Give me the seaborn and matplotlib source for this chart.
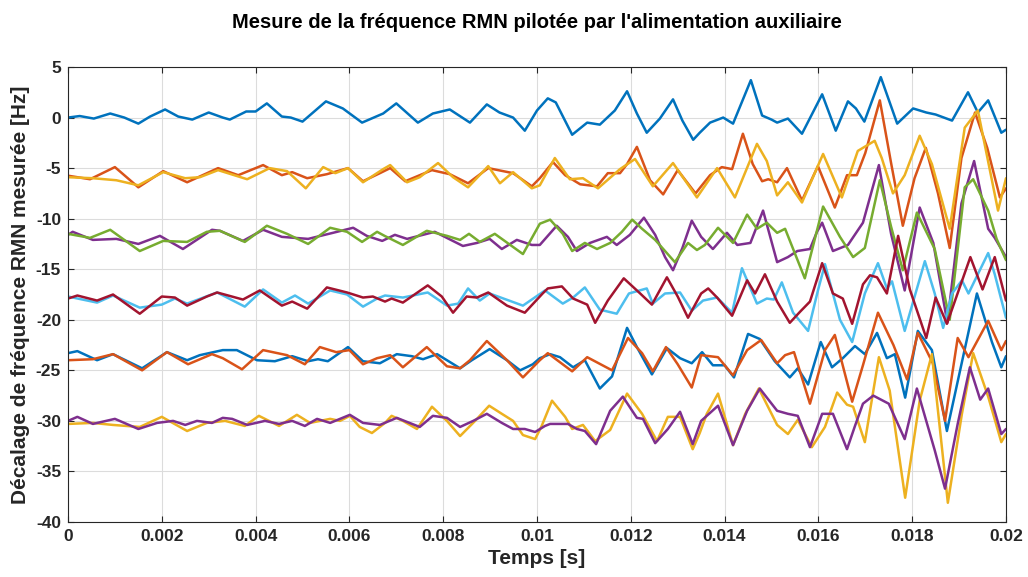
import numpy as np
import pandas as pd
import matplotlib
matplotlib.use("Agg")
import matplotlib.pyplot as plt
from matplotlib.ticker import FuncFormatter, MultipleLocator
import seaborn as sns

# Measured NMR frequency offset traces: (time in ms, offset in Hz)
trace_blue_0 = [(0, 0.0), (0.25, 0.15), (0.55, -0.1), (0.9, 0.4), (1.2, 0.0), (1.5, -0.6), (1.75, 0.1),
                (2.07, 0.8), (2.35, 0.1), (2.65, -0.2), (3.0, 0.5), (3.3, 0.0), (3.45, -0.2), (3.8, 0.6),
                (4.0, 0.6), (4.24, 1.4), (4.56, 0.1), (4.75, 0.0), (5.0, -0.4), (5.25, 0.6), (5.5, 1.6),
                (5.86, 0.9), (6.27, -0.5), (6.72, 0.4), (7.0, 1.4), (7.46, -0.5), (7.78, 0.4), (8.14, 0.8),
                (8.57, -0.5), (8.93, 1.3), (9.2, 0.5), (9.49, 0.0), (9.74, -1.3), (10.0, 0.7), (10.23, 1.9),
                (10.4, 1.5), (10.75, -1.7), (11.07, -0.5), (11.34, -0.7), (11.66, 0.7), (11.92, 2.6),
                (12.13, 0.4), (12.34, -1.5), (12.62, -0.1), (12.9, 1.8), (13.1, -0.3), (13.33, -2.2),
                (13.47, -1.5), (13.69, -0.5), (13.97, 0.0), (14.18, -0.6), (14.56, 3.7), (14.8, 0.2),
                (15.0, -0.2), (15.12, -0.5), (15.35, -0.1), (15.65, -1.6), (16.08, 2.3), (16.37, -1.3),
                (16.63, 1.6), (16.8, 0.9), (16.98, -0.4), (17.33, 4.0), (17.68, -0.6), (18.02, 0.9),
                (18.3, 0.5), (18.5, 0.3), (18.85, -0.3), (19.19, 2.5), (19.4, 0.5), (19.62, 1.7),
                (19.9, -1.5), (20.0, -1.2)]

trace_orange_6 = [(0, -5.75), (0.47, -6.1), (1.0, -4.9), (1.5, -6.9), (2.03, -5.3), (2.54, -6.4), (3.2, -5.0),
                  (3.63, -5.7), (4.16, -4.7), (4.56, -5.7), (4.78, -5.4), (5.1, -6.0), (5.52, -5.6),
                  (5.97, -5.0), (6.29, -6.3), (6.65, -5.5), (6.87, -5.0), (7.19, -6.3), (7.76, -5.2),
                  (8.14, -5.6), (8.53, -6.5), (8.96, -5.0), (9.49, -5.5), (9.89, -6.8), (10.06, -6.0),
                  (10.34, -4.4), (10.6, -5.7), (10.92, -6.6), (11.28, -6.8), (11.51, -5.5), (11.77, -5.5),
                  (11.92, -4.6), (12.13, -2.9), (12.41, -6.2), (12.69, -7.6), (13.0, -5.2), (13.38, -7.5),
                  (13.69, -5.7), (13.94, -4.9), (14.16, -5.1), (14.39, -1.6), (14.6, -4.6), (14.8, -6.3),
                  (14.93, -6.1), (15.12, -6.4), (15.33, -5.0), (15.65, -8.2), (15.99, -4.8), (16.35, -8.9),
                  (16.61, -5.7), (16.82, -5.7), (17.0, -3.5), (17.31, 1.7), (17.55, -4.5), (17.8, -10.7),
                  (18.05, -6.0), (18.29, -3.0), (18.55, -7.5), (18.8, -12.9), (19.05, -4.0), (19.34, 0.5),
                  (19.6, -3.0), (19.87, -7.9), (20.0, -7.0)]

trace_yellow_6 = [(0, -5.9), (0.53, -6.0), (1.03, -6.2), (1.5, -6.7), (2.03, -5.4), (2.5, -6.0), (2.81, -5.9),
                  (3.2, -5.2), (3.82, -6.1), (4.3, -5.0), (4.67, -5.3), (5.07, -7.0), (5.44, -4.9),
                  (5.7, -5.5), (5.97, -5.0), (6.29, -6.4), (6.72, -5.1), (6.87, -4.7), (7.23, -6.4),
                  (7.5, -5.9), (7.89, -4.5), (8.21, -5.9), (8.53, -6.9), (8.96, -4.8), (9.21, -6.5),
                  (9.49, -5.4), (9.89, -7.0), (10.06, -6.7), (10.38, -4.0), (10.7, -6.1), (10.98, -6.0),
                  (11.3, -7.0), (11.77, -5.1), (12.09, -4.1), (12.47, -6.8), (12.9, -4.5), (13.41, -7.9),
                  (13.84, -5.0), (14.22, -7.9), (14.69, -2.6), (14.9, -4.3), (15.12, -7.7), (15.35, -6.4),
                  (15.65, -8.4), (16.1, -3.6), (16.5, -7.9), (16.84, -3.3), (17.2, -2.3), (17.35, -4.0),
                  (17.59, -7.5), (17.84, -5.7), (18.16, -1.8), (18.42, -4.6), (18.8, -11.0), (19.12, -1.0),
                  (19.4, 0.7), (19.83, -9.2), (20.0, -6.0)]

trace_purple_12 = [(0, -11.6), (0.1, -11.3), (0.53, -12.1), (1.03, -12.0), (1.5, -12.5), (1.96, -11.7),
                   (2.45, -13.0), (3.07, -11.1), (3.24, -11.2), (3.73, -12.2), (4.16, -11.1), (4.56, -11.8),
                   (5.12, -12.0), (5.65, -11.4), (6.08, -10.9), (6.37, -11.7), (6.7, -12.2), (6.97, -11.6),
                   (7.23, -12.0), (7.82, -11.3), (8.42, -12.7), (8.72, -12.4), (8.99, -12.0), (9.25, -13.0),
                   (9.57, -12.1), (9.89, -12.6), (10.06, -12.6), (10.42, -10.7), (10.66, -11.8),
                   (10.85, -13.2), (11.13, -12.4), (11.49, -11.8), (11.7, -12.6), (11.98, -11.6),
                   (12.28, -9.9), (12.52, -11.6), (12.73, -13.8), (12.9, -15.1), (13.1, -12.9), (13.3, -10.2),
                   (13.5, -11.8), (13.75, -13.0), (14.05, -11.4), (14.27, -12.6), (14.55, -12.4),
                   (14.82, -9.2), (15.12, -14.3), (15.35, -13.8), (15.55, -13.2), (15.82, -13.0),
                   (15.97, -11.3), (16.08, -10.4), (16.31, -13.2), (16.63, -12.6), (16.95, -10.4),
                   (17.29, -4.7), (17.55, -11.5), (17.84, -17.1), (18.16, -8.9), (18.45, -12.4),
                   (18.75, -20.3), (19.05, -8.5), (19.32, -4.3), (19.62, -11.0), (19.76, -11.9), (20.0, -13.8)]

trace_green_12 = [(0, -11.5), (0.47, -11.9), (0.9, -11.1), (1.53, -13.2), (2.03, -12.2), (2.54, -12.3),
                  (2.96, -11.3), (3.24, -11.2), (3.77, -12.3), (4.24, -10.7), (4.67, -11.5), (5.12, -12.5),
                  (5.59, -10.9), (5.95, -11.3), (6.27, -12.3), (6.59, -11.3), (6.75, -11.7), (7.14, -12.6),
                  (7.65, -11.2), (8.08, -11.7), (8.36, -12.1), (8.55, -11.5), (8.78, -12.3), (9.1, -11.5),
                  (9.7, -13.5), (10.06, -10.5), (10.28, -10.1), (10.55, -11.5), (10.75, -13.2),
                  (11.02, -12.4), (11.28, -13.0), (11.56, -12.4), (11.81, -11.3), (12.03, -10.1),
                  (12.24, -11.0), (12.52, -12.1), (12.94, -14.3), (13.22, -12.4), (13.41, -13.1),
                  (13.58, -12.6), (13.86, -10.9), (14.18, -12.4), (14.48, -9.6), (14.69, -11.0),
                  (14.9, -10.4), (15.12, -11.4), (15.29, -11.0), (15.71, -15.9), (16.1, -8.8),
                  (16.46, -11.8), (16.74, -13.8), (16.99, -12.9), (17.31, -6.2), (17.55, -10.8),
                  (17.8, -15.1), (18.1, -9.4), (18.48, -13.0), (18.8, -20.0), (19.12, -6.9), (19.3, -6.1),
                  (19.62, -9.2), (19.8, -12.0), (20.0, -14.1)]

trace_lightblue_18 = [(0, -17.7), (0.62, -18.3), (0.96, -17.6), (1.53, -18.8), (2.0, -18.5), (2.28, -17.9),
                      (2.54, -18.4), (3.18, -17.3), (3.77, -18.7), (4.16, -17.0), (4.56, -18.3),
                      (4.84, -17.6), (5.12, -18.4), (5.59, -17.1), (5.95, -17.5), (6.29, -18.7), (6.59, -17.9),
                      (6.76, -17.6), (7.14, -17.8), (7.67, -17.3), (8.08, -18.6), (8.32, -18.4), (8.53, -16.9),
                      (8.78, -18.1), (8.99, -17.4), (9.7, -18.6), (10.17, -17.1), (10.55, -18.4),
                      (10.77, -17.8), (11.02, -16.8), (11.34, -19.0), (11.7, -19.4), (11.96, -17.4),
                      (12.34, -16.9), (12.47, -18.4), (12.73, -17.4), (13.05, -17.3), (13.3, -19.1),
                      (13.54, -18.1), (13.84, -17.8), (14.16, -19.3), (14.37, -14.9), (14.69, -18.4),
                      (14.9, -17.9), (15.05, -18.0), (15.22, -16.3), (15.46, -19.3), (15.78, -21.1),
                      (15.99, -17.1), (16.14, -14.5), (16.46, -20.0), (16.72, -22.2), (16.99, -17.4),
                      (17.27, -14.4), (17.46, -16.9), (17.57, -16.2), (17.84, -21.1), (18.27, -14.2),
                      (18.48, -17.4), (18.66, -20.8), (18.85, -17.4), (19.06, -16.1), (19.2, -17.4),
                      (19.62, -13.4), (19.76, -15.5), (20.0, -19.8)]

trace_darkred_18 = [(0, -17.9), (0.2, -17.6), (0.62, -18.1), (0.96, -17.5), (1.53, -19.4), (2.0, -17.7),
                    (2.28, -17.8), (2.54, -18.6), (2.96, -17.7), (3.18, -17.3), (3.73, -18.0), (4.09, -17.1),
                    (4.56, -18.6), (4.78, -18.2), (5.1, -18.9), (5.52, -16.8), (5.95, -17.3), (6.29, -17.8),
                    (6.5, -17.7), (6.76, -18.2), (6.9, -17.9), (7.14, -18.3), (7.67, -16.6), (7.97, -17.7),
                    (8.21, -19.3), (8.5, -17.7), (8.72, -17.8), (8.96, -17.3), (9.36, -18.6), (9.74, -19.3),
                    (10.12, -17.4), (10.23, -16.9), (10.53, -16.7), (10.77, -17.9), (11.07, -18.5),
                    (11.24, -20.3), (11.51, -18.1), (11.85, -15.9), (12.2, -17.4), (12.45, -18.5),
                    (12.77, -15.8), (13.0, -17.7), (13.22, -19.8), (13.5, -17.4), (13.65, -16.9),
                    (13.84, -17.8), (14.16, -19.6), (14.48, -16.1), (14.65, -17.4), (14.86, -15.5),
                    (15.12, -18.2), (15.39, -20.3), (15.61, -19.2), (15.82, -18.2), (16.08, -14.4),
                    (16.31, -17.4), (16.52, -17.9), (16.72, -20.4), (16.95, -16.5), (17.1, -15.6),
                    (17.25, -15.8), (17.46, -17.4), (17.7, -11.7), (17.95, -17.0), (18.3, -21.8),
                    (18.5, -17.8), (18.74, -20.4), (19.24, -13.8), (19.5, -17.0), (19.76, -13.8),
                    (20.0, -18.1)]

trace_blue_24 = [(0, -23.3), (0.2, -23.1), (0.62, -24.0), (0.96, -23.4), (1.58, -24.8), (2.11, -23.2),
                 (2.54, -24.0), (2.81, -23.5), (3.3, -23.0), (3.6, -23.0), (4.03, -24.0), (4.41, -24.1),
                 (4.78, -23.6), (5.12, -24.1), (5.33, -23.9), (5.54, -24.1), (5.97, -22.7), (6.29, -24.1),
                 (6.65, -24.3), (7.01, -23.4), (7.33, -23.6), (7.57, -23.9), (7.87, -23.4), (8.36, -24.8),
                 (8.61, -24.0), (8.99, -22.9), (9.36, -24.0), (9.64, -25.0), (9.91, -24.4), (10.06, -23.8),
                 (10.28, -23.4), (10.49, -23.7), (10.77, -24.7), (11.02, -24.0), (11.34, -26.8),
                 (11.6, -25.6), (11.92, -20.8), (12.13, -22.7), (12.45, -25.4), (12.77, -22.8),
                 (13.05, -23.8), (13.3, -24.3), (13.52, -23.2), (13.75, -24.5), (14.0, -24.5),
                 (14.2, -25.7), (14.5, -21.4), (14.75, -21.9), (15.07, -24.1), (15.39, -25.7),
                 (15.56, -24.8), (15.78, -26.4), (16.05, -22.2), (16.29, -24.7), (16.52, -23.8),
                 (16.78, -22.6), (16.99, -23.4), (17.25, -21.3), (17.46, -23.8), (17.63, -23.4),
                 (17.85, -27.7), (18.12, -21.1), (18.42, -23.0), (18.74, -31.0), (18.97, -26.1),
                 (19.38, -17.4), (19.7, -22.2), (19.9, -24.7), (20.0, -23.6)]

trace_orange_24 = [(0, -24.0), (0.53, -23.9), (0.96, -23.4), (1.58, -25.0), (2.11, -23.2), (2.56, -24.4),
                   (3.07, -23.4), (3.3, -23.8), (3.71, -24.9), (4.16, -23.0), (4.67, -23.5), (5.05, -24.4),
                   (5.37, -22.7), (5.72, -23.2), (6.0, -23.0), (6.29, -24.4), (6.59, -23.8), (6.87, -23.5),
                   (7.14, -24.7), (7.65, -22.7), (8.08, -24.6), (8.36, -24.8), (8.57, -24.0), (8.93, -22.1),
                   (9.36, -24.0), (9.7, -25.7), (10.06, -24.0), (10.23, -23.3), (10.75, -25.1),
                   (11.07, -23.7), (11.6, -25.0), (11.94, -21.8), (12.24, -23.3), (12.47, -25.1),
                   (12.75, -22.7), (13.0, -24.4), (13.3, -26.7), (13.5, -23.5), (13.86, -23.7),
                   (14.18, -25.5), (14.48, -23.0), (14.78, -22.0), (15.12, -24.3), (15.29, -23.5),
                   (15.48, -23.2), (15.82, -28.3), (16.14, -23.0), (16.35, -21.5), (16.72, -28.1),
                   (16.95, -24.5), (17.27, -19.3), (17.6, -22.5), (17.89, -25.9), (18.12, -21.3),
                   (18.44, -24.3), (18.7, -30.0), (18.97, -21.8), (19.2, -23.7), (19.62, -20.1),
                   (19.9, -23.0), (20.0, -22.1)]

trace_yellow_30 = [(0, -30.3), (0.53, -30.2), (0.96, -30.4), (1.53, -30.6), (2.0, -29.6), (2.54, -31.0),
                   (2.96, -30.2), (3.35, -30.0), (3.77, -30.5), (4.07, -29.5), (4.5, -30.5), (4.88, -29.4),
                   (5.16, -30.2), (5.59, -29.8), (5.8, -30.0), (6.01, -29.5), (6.22, -30.6), (6.48, -31.2),
                   (6.76, -30.2), (6.9, -29.5), (7.14, -30.0), (7.44, -30.8), (7.76, -28.6), (8.08, -30.0),
                   (8.36, -31.5), (8.68, -30.0), (8.98, -28.5), (9.25, -29.3), (9.49, -30.0), (9.7, -31.4),
                   (9.96, -31.8), (10.1, -30.5), (10.32, -28.0), (10.6, -29.6), (10.75, -30.8),
                   (10.98, -30.4), (11.24, -32.0), (11.56, -30.9), (11.92, -27.3), (12.24, -29.3),
                   (12.56, -32.0), (12.79, -29.6), (13.05, -29.6), (13.32, -32.8), (13.47, -31.2),
                   (13.62, -29.3), (13.86, -27.3), (14.18, -32.4), (14.44, -29.3), (14.73, -26.8),
                   (15.12, -30.4), (15.35, -31.3), (15.56, -29.9), (15.86, -32.6), (16.14, -30.6),
                   (16.4, -27.2), (16.61, -28.4), (16.74, -28.6), (16.99, -32.1), (17.29, -23.7),
                   (17.52, -27.0), (17.85, -37.6), (18.16, -28.0), (18.42, -23.4), (18.76, -38.1),
                   (19.06, -29.3), (19.3, -23.3), (19.62, -27.6), (19.9, -32.1), (20.0, -31.3)]

trace_purple_30 = [(0, -30.0), (0.2, -29.6), (0.53, -30.3), (1.0, -29.8), (1.5, -30.8), (1.9, -30.2),
                   (2.24, -30.0), (2.5, -30.4), (2.75, -30.0), (3.07, -30.2), (3.3, -29.7), (3.5, -29.8),
                   (3.82, -30.4), (4.2, -30.0), (4.5, -30.3), (4.78, -30.0), (5.05, -30.5), (5.31, -29.8),
                   (5.59, -30.2), (6.01, -29.4), (6.29, -30.2), (6.65, -30.4), (7.01, -29.7), (7.5, -30.6),
                   (7.78, -29.5), (8.08, -29.7), (8.36, -30.6), (8.64, -30.0), (8.93, -29.3), (9.25, -30.2),
                   (9.49, -30.8), (9.74, -30.8), (9.96, -31.1), (10.17, -30.5), (10.28, -30.3),
                   (10.66, -30.3), (10.85, -30.8), (11.02, -31.0), (11.26, -32.3), (11.56, -29.0),
                   (11.83, -27.6), (12.13, -29.7), (12.26, -29.8), (12.52, -32.2), (12.79, -30.8),
                   (13.05, -29.1), (13.32, -32.3), (13.5, -30.0), (13.86, -28.5), (14.18, -32.4),
                   (14.48, -29.0), (14.75, -26.8), (15.12, -29.0), (15.35, -29.3), (15.56, -29.5),
                   (15.82, -32.6), (16.08, -29.3), (16.31, -29.3), (16.61, -32.8), (16.78, -30.5),
                   (16.95, -28.3), (17.17, -27.5), (17.5, -28.3), (17.84, -31.8), (18.1, -26.8),
                   (18.48, -32.9), (18.7, -36.7), (18.97, -30.3), (19.23, -24.7), (19.45, -27.9),
                   (19.62, -26.8), (19.9, -31.3), (20.0, -30.8)]

# Default MATLAB-style colour cycle, in drawing order
traces = [
    (trace_blue_0, "#0072BD"),
    (trace_orange_6, "#D95319"),
    (trace_yellow_6, "#EDB120"),
    (trace_purple_12, "#7E2F8E"),
    (trace_green_12, "#77AC30"),
    (trace_lightblue_18, "#4DBEEE"),
    (trace_darkred_18, "#A2142F"),
    (trace_blue_24, "#0072BD"),
    (trace_orange_24, "#D95319"),
    (trace_yellow_30, "#EDB120"),
    (trace_purple_30, "#7E2F8E"),
]

title_text = "Mesure de la fréquence RMN pilotée par l'alimentation auxiliaire"
xlabel_text = "Temps [s]"
ylabel_text = "Décalage de fréquence RMN mesurée [Hz]"

sns.set_theme(style="ticks")
plt.rcParams["font.family"] = ["Liberation Sans", "DejaVu Sans"]
plt.rcParams["axes.unicode_minus"] = False
plt.rcParams["lines.solid_joinstyle"] = "round"
plt.rcParams["lines.solid_capstyle"] = "round"

fig = plt.figure(figsize=(10.28, 5.77), dpi=100)
ax = fig.add_axes([68 / 1028, 1 - 522 / 577, (1006 - 68) / 1028, (522 - 67) / 577])

for pts, color in traces:
    df = pd.DataFrame(pts, columns=["t_ms", "hz"])
    df["t"] = df["t_ms"] * 1e-3
    sns.lineplot(data=df, x="t", y="hz", ax=ax, color=color, linewidth=1.8,
                 sort=False, estimator=None, legend=False)

ax.set_xlim(0, 0.02)
ax.set_ylim(-40, 5)
ax.xaxis.set_major_locator(MultipleLocator(0.002))
ax.yaxis.set_major_locator(MultipleLocator(5))
ax.xaxis.set_major_formatter(FuncFormatter(lambda v, _: "%g" % round(v, 6)))
ax.yaxis.set_major_formatter(FuncFormatter(lambda v, _: "%g" % v))

ax.grid(True, color="#dcdcdc", linewidth=0.8)
ax.set_axisbelow(True)
for side in ["top", "right", "bottom", "left"]:
    ax.spines[side].set_visible(True)
    ax.spines[side].set_color("#262626")
    ax.spines[side].set_linewidth(0.8)
ax.tick_params(direction="in", length=4, width=0.8, colors="#262626", labelsize=12.5,
               top=True, right=True, pad=5)
for lab in ax.get_xticklabels() + ax.get_yticklabels():
    lab.set_fontweight("bold")

ax.set_title(title_text, fontsize=14.5, fontweight="bold", color="#000000", pad=28)
ax.set_xlabel(xlabel_text, fontsize=15, fontweight="bold", color="#262626", labelpad=4)
ax.set_ylabel(ylabel_text, fontsize=15, fontweight="bold", color="#262626", labelpad=4)

fig.savefig("out.png", dpi=100)
